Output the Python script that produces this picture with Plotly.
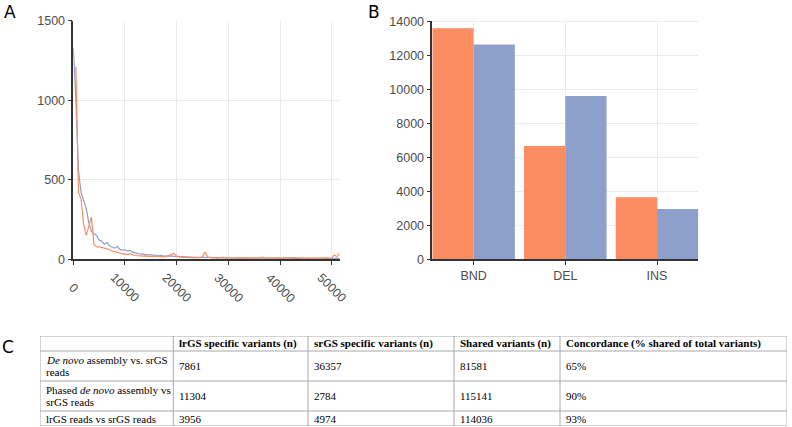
import plotly.graph_objects as go

# ---------------- Panel A data (length bins, counts) ----------------
bin_start = [i * 500 for i in range(104)]
blue_counts = [1330, 1000, 560, 420, 370, 320, 230, 175, 160, 150,
               120, 115, 95, 105, 85, 78, 70, 82, 62, 58,
               60, 52, 56, 45, 42, 35, 32, 34, 28, 30,
               26, 25, 27, 22, 24, 20, 22, 19, 20, 18,
               17, 18, 15, 16, 14, 15, 13, 14, 12, 13,
               12, 11, 12, 10, 11, 10, 11, 10, 9, 10,
               9, 10, 8, 9, 8, 9, 8, 9, 8, 8,
               9, 7, 8, 8, 7, 8, 7, 8, 7, 7,
               8, 7, 7, 8, 6, 7, 7, 6, 7, 6,
               7, 6, 7, 6, 6, 7, 6, 6, 7, 6,
               6, 7, 6, 6]
orange_counts = [None, 1210, 420, 380, 220, 150, 215, 265, 95, 80,
                 78, 72, 70, 66, 58, 52, 48, 42, 38, 36,
                 34, 30, 36, 27, 24, 22, 24, 20, 22, 18,
                 20, 17, 19, 16, 18, 15, 17, 22, 28, 36,
                 20, 14, 12, 13, 11, 12, 10, 11, 9, 10,
                 18, 45, 14, 10, 9, 11, 8, 10, 12, 9,
                 8, 10, 7, 9, 8, 10, 7, 9, 8, 7,
                 9, 8, 7, 14, 8, 7, 9, 6, 8, 10,
                 7, 8, 6, 9, 7, 8, 10, 7, 6, 8,
                 7, 9, 6, 8, 7, 6, 8, 7, 9, 6,
                 8, 27, 16, 38]
a_xticks = [0, 10000, 20000, 30000, 40000, 50000]
a_yticks = [0, 500, 1000, 1500]

# ---------------- Panel B data ----------------
sv_types = ["BND", "DEL", "INS"]
orange_sv = [13620, 6680, 3660]
blue_sv = [12660, 9620, 2970]
b_yticks = [0, 2000, 4000, 6000, 8000, 10000, 12000, 14000]

# ---------------- Panel C table ----------------
tbl_header = ["", "<b>lrGS specific variants (n)</b>", "<b>srGS specific variants (n)</b>",
              "<b>Shared variants (n)</b>", "<b>Concordance (% shared of total variants)</b>"]
tbl_comparison = ["<i>De novo</i> assembly vs. srGS<br>reads",
                  "Phased <i>de novo</i> assembly vs<br>srGS reads",
                  "lrGS reads vs srGS reads"]
tbl_lr_specific = ["7861", "11304", "3956"]
tbl_sr_specific = ["36357", "2784", "4974"]
tbl_shared = ["81581", "115141", "114036"]
tbl_concordance = ["65%", "90%", "93%"]

ORANGE = "#FC8D62"
BLUE = "#8DA0CB"
AXIS = "#333333"
GRID = "#EBEBEB"
TICKC = "#4D4D4D"
TLINE = "#A8A8A8"
W, H = 792, 427

fig = go.Figure()

fig.add_trace(go.Scatter(x=bin_start, y=blue_counts, mode="lines",
                         line=dict(color=BLUE, width=1.2), xaxis="x", yaxis="y",
                         showlegend=False))
fig.add_trace(go.Scatter(x=bin_start, y=orange_counts, mode="lines",
                         line=dict(color=ORANGE, width=1.2), xaxis="x", yaxis="y",
                         showlegend=False))

fig.add_trace(go.Bar(x=sv_types, y=orange_sv, marker=dict(color=ORANGE, line=dict(width=0)),
                     xaxis="x2", yaxis="y2", showlegend=False))
fig.add_trace(go.Bar(x=sv_types, y=blue_sv, marker=dict(color=BLUE, line=dict(width=0)),
                     xaxis="x2", yaxis="y2", showlegend=False))

tickfont = dict(family="Liberation Sans", size=12.5, color=TICKC)

fig.update_layout(
    width=W, height=H, margin=dict(l=0, r=0, t=0, b=0, autoexpand=False),
    paper_bgcolor="white", plot_bgcolor="white",
    barmode="group", bargap=0.1, bargroupgap=0,
    xaxis=dict(domain=[73.3 / W, 340 / W], range=[0, 51600], anchor="y", automargin=False,
               tickvals=a_xticks, showticklabels=False, ticks="outside", ticklen=4,
               tickcolor=AXIS, showgrid=True, gridcolor=GRID, gridwidth=1,
               showline=True, linecolor=AXIS, linewidth=1.5, zeroline=False),
    yaxis=dict(domain=[1 - 259.3 / H, 1 - 20.7 / H], range=[0, 1500], anchor="x", automargin=False,
               tickvals=a_yticks, tickformat="d", ticks="outside", ticklen=4, tickcolor=AXIS,
               tickfont=tickfont, showgrid=True, gridcolor=GRID, gridwidth=1,
               showline=True, linecolor=AXIS, linewidth=1.5, zeroline=False),
    xaxis2=dict(domain=[432.3 / W, 698.3 / W], range=[-0.45, 2.45], anchor="y2", automargin=False,
                ticks="outside", ticklen=4, tickcolor=AXIS, tickfont=tickfont,
                showgrid=True, gridcolor=GRID, gridwidth=1,
                showline=True, linecolor=AXIS, linewidth=1.5, zeroline=False),
    yaxis2=dict(domain=[1 - 259.3 / H, 1 - 20.7 / H], range=[0, 14060], anchor="x2", automargin=False,
                tickvals=b_yticks, tickformat="d", ticks="outside", ticklen=4, tickcolor=AXIS,
                tickfont=tickfont, showgrid=True, gridcolor=GRID, gridwidth=1,
                showline=True, linecolor=AXIS, linewidth=1.5, zeroline=False),
)

# rotated x tick labels of panel A, centred on their ticks
for t in a_xticks:
    fig.add_annotation(x=t, xref="x", y=1 - 259.3 / H, yref="paper", yshift=-29,
                       text=str(t), textangle=45, showarrow=False,
                       xanchor="center", yanchor="middle", font=tickfont)

# ---------------- Panel C: table drawn on its own hidden axes ----------------
col_widths = [133.3, 134.7, 146, 106, 227]          # layout widths of the columns
columns = [tbl_comparison, tbl_lr_specific, tbl_sr_specific, tbl_shared, tbl_concordance]
rows = [tbl_header] + [[col[r] for col in columns] for r in range(len(tbl_comparison))]
row_lines = [max(c.count("<br>") + 1 for c in row) for row in rows]

col_edges = [0]
for w_ in col_widths:
    col_edges.append(col_edges[-1] + w_)
row_edges = [0]
for n in row_lines:
    row_edges.append(row_edges[-1] + n)

fig.update_layout(
    xaxis3=dict(domain=[40 / W, 787 / W], range=[0, col_edges[-1]], anchor="y3",
                visible=False, automargin=False, fixedrange=True),
    yaxis3=dict(domain=[1 - 426 / H, 1 - 336 / H], range=[row_edges[-1], 0], anchor="x3",
                visible=False, automargin=False, fixedrange=True),
)
# invisible trace so that the third axis pair exists
fig.add_trace(go.Scatter(x=[0], y=[0], mode="markers", marker=dict(opacity=0),
                         xaxis="x3", yaxis="y3", showlegend=False, hoverinfo="skip"))

for y_ in row_edges:
    fig.add_shape(type="line", xref="x3", yref="y3", x0=col_edges[0], x1=col_edges[-1],
                  y0=y_, y1=y_, line=dict(color=TLINE, width=1))
for x_ in col_edges:
    fig.add_shape(type="line", xref="x3", yref="y3", x0=x_, x1=x_,
                  y0=row_edges[0], y1=row_edges[-1], line=dict(color=TLINE, width=1))

tfont = dict(family="Liberation Serif", size=11, color="black")
LINE_PX = 11.7
for r, row in enumerate(rows):
    y_mid = (row_edges[r] + row_edges[r + 1]) / 2
    for c, cell in enumerate(row):
        parts = cell.split("<br>")
        for k, line in enumerate(parts):
            if not line:
                continue
            fig.add_annotation(x=col_edges[c], y=y_mid, xref="x3", yref="y3",
                               xshift=4, yshift=-((k - (len(parts) - 1) / 2) * LINE_PX),
                               text=line, showarrow=False,
                               xanchor="left", yanchor="middle", font=tfont)

# panel letters
for letter, px, py in [("A", 2, 0), ("B", 366, 0), ("C", 0, 335)]:
    fig.add_annotation(x=px / W, y=1 - py / H, xref="paper", yref="paper",
                       text=letter, showarrow=False, xanchor="left", yanchor="top",
                       font=dict(family="DejaVu Sans", size=17, color="black"))

fig.write_html("out.html", config={"displayModeBar": False},
               post_script="document.body.style.margin='0px';")
